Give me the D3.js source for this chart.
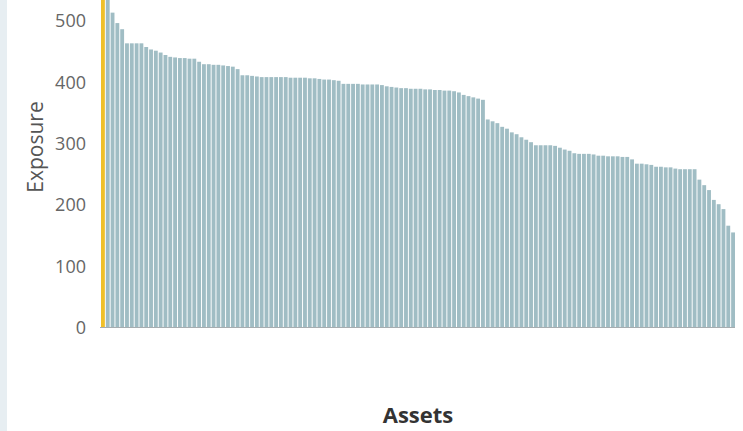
<!DOCTYPE html>
<html>
<head>
<meta charset="utf-8">
<script src="https://cdn.jsdelivr.net/npm/d3@7"></script>
<style>
	body { margin: 0; background: #fff; }
	svg { display: block; font-family: "Open Sans", sans-serif; }
</style>
</head>
<body>
<svg width="743" height="431"></svg>
<script>
// Exposure per asset, sorted descending (first one highlighted)
var exposure = [
	560, 540, 512, 495, 485, 462, 462, 462, 462, 456,
	452, 450, 447, 443, 440, 439, 438, 438, 437, 437,
	432, 428, 428, 427, 427, 426, 425, 424, 420, 410,
	410, 409, 408, 407, 407, 407, 407, 407, 407, 406,
	406, 406, 406, 405, 405, 404, 403, 403, 402, 401,
	396, 396, 396, 396, 395, 395, 395, 395, 394, 392,
	391, 390, 389, 389, 388, 388, 388, 387, 387, 386,
	386, 385, 385, 384, 382, 378, 376, 374, 372, 370,
	338, 335, 332, 326, 323, 317, 314, 309, 305, 301,
	296, 296, 296, 296, 295, 292, 289, 287, 283, 282,
	282, 282, 281, 279, 279, 278, 278, 278, 277, 277,
	273, 266, 266, 265, 264, 261, 261, 260, 260, 258,
	257, 257, 257, 257, 240, 231, 223, 207, 200, 192,
	165, 154
];
var assets = exposure.map((d, i) => "A" + (i + 1));
var yTicks = [0, 100, 200, 300, 400, 500];
var highlighted = 0;

var svg = d3.select("svg");

// light side strip
svg.append("rect")
	.attr("x", 0).attr("y", 0)
	.attr("width", 7).attr("height", 431)
	.attr("fill", "#e7eef2");

var x = d3.scaleBand()
	.domain(assets)
	.range([101, 735])
	.paddingInner(0.2);

var y = d3.scaleLinear()
	.domain([0, 500])
	.range([327, 20]);

// Bars
svg.append("g")
	.selectAll("rect")
	.data(exposure)
	.enter().append("rect")
	.attr("x", (d, i) => x(assets[i]))
	.attr("y", (d) => Math.max(0, y(d)))
	.attr("width", x.bandwidth())
	.attr("height", (d) => y(0) - Math.max(0, y(d)))
	.attr("fill", (d, i) => i == highlighted ? "#f0c02a" : "#a0bdc4");

// x baseline
svg.append("line")
	.attr("x1", 100).attr("x2", 735)
	.attr("y1", y(0) + 0.5).attr("y2", y(0) + 0.5)
	.attr("stroke", "#a7adb0");

// Y axis labels
var yAxis = d3.axisLeft(y).tickValues(yTicks).tickSize(0).tickPadding(0);
var gy = svg.append("g")
	.attr("transform", "translate(86,1)")
	.call(yAxis);
gy.select(".domain").remove();
gy.selectAll("text")
	.attr("font-size", 18)
	.attr("font-family", "Open Sans, sans-serif")
	.attr("fill", "#666");

// Axis titles
svg.append("text")
	.attr("transform", "translate(43,147) rotate(-90)")
	.attr("text-anchor", "middle")
	.attr("font-size", 21)
	.attr("fill", "#555")
	.text("Exposure");

svg.append("text")
	.attr("x", 418)
	.attr("y", 423)
	.attr("text-anchor", "middle")
	.attr("font-size", 22)
	.attr("font-weight", "bold")
	.attr("fill", "#333")
	.text("Assets");
</script>
</body>
</html>
